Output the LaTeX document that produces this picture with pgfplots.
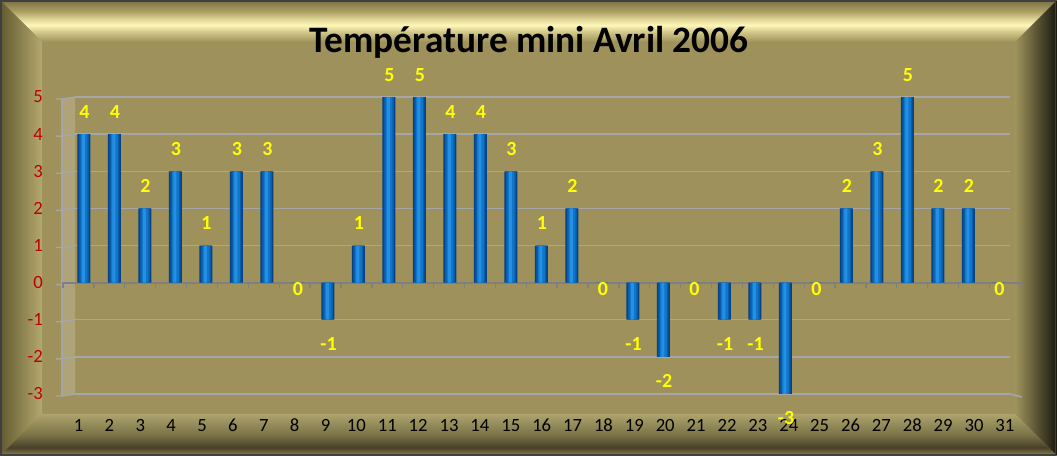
\documentclass[border=0pt]{standalone}
\usepackage{pgfplots}
\pgfplotsset{compat=1.18}
\usepackage{pgfplotstable}
\usepackage{fontspec}
\setmainfont{Carlito}

\definecolor{panel}{RGB}{158,145,92}
\definecolor{bevleftdark}{RGB}{98,90,48}
\definecolor{bevleftlight}{RGB}{180,168,110}
\definecolor{bevrightlight}{RGB}{160,148,92}
\definecolor{bevrightdark}{RGB}{25,24,14}
\definecolor{bar1}{RGB}{6,66,130}
\definecolor{bar2}{RGB}{10,92,170}
\definecolor{bar3}{RGB}{16,118,202}
\definecolor{bar4}{RGB}{36,144,228}
\definecolor{gridgrey}{RGB}{166,166,166}
\definecolor{axgrey}{RGB}{128,128,128}
\definecolor{ticklab}{RGB}{192,0,0}
\definecolor{lab}{RGB}{255,255,0}

\pgfdeclareverticalshading{topbev}{100bp}{%
  color(0bp)=(panel); color(25bp)=(panel);
  rgb(38bp)=(0.84,0.80,0.55); rgb(45bp)=(1,0.965,0.73);
  rgb(52bp)=(0.88,0.84,0.59); rgb(62bp)=(0.66,0.62,0.39);
  rgb(75bp)=(0.47,0.43,0.25); rgb(100bp)=(0.47,0.43,0.25)}
\pgfdeclareverticalshading{botbev}{100bp}{%
  rgb(0bp)=(0.60,0.56,0.38); rgb(25bp)=(0.60,0.56,0.38);
  rgb(29bp)=(0.45,0.42,0.26); rgb(35bp)=(0.28,0.25,0.15);
  rgb(50bp)=(0.48,0.45,0.28); rgb(75bp)=(0.68,0.64,0.43);
  rgb(100bp)=(0.68,0.64,0.43)}

% temperature mini, avril 2006
\pgfplotstableread{
d t
1 4
2 4
3 2
4 3
5 1
6 3
7 3
8 0
9 -1
10 1
11 5
12 5
13 4
14 4
15 3
16 1
17 2
18 0
19 -1
20 -2
21 0
22 -1
23 -1
24 -3
25 0
26 2
27 3
28 5
29 2
30 2
31 0
}\tmini

\begin{document}
\begin{tikzpicture}
\begin{scope}[x=0.75pt,y=0.75pt]
\useasboundingbox (0,0) rectangle (1057,456);
\fill[panel] (0,0) rectangle (1057,456);
% bevelled frame
\shade[shading=topbev]
  (0,456) -- (1057,456) -- (1015,414) -- (42,414) -- cycle;
\shade[left color=bevleftdark, right color=bevleftlight]
  (0,0) -- (42,42) -- (42,414) -- (0,456) -- cycle;
\shade[left color=bevrightlight, right color=bevrightdark]
  (1015,42) -- (1057,0) -- (1057,456) -- (1015,414) -- cycle;
\shade[shading=botbev]
  (0,0) -- (1057,0) -- (1015,42) -- (42,42) -- cycle;
\draw[black!75, line width=1.2pt] (0.8,0.8) rectangle (1055.5,455.2);
\node[font=\bfseries\fontsize{28}{32}\selectfont, anchor=base] at (529,403) {Température mini Avril 2006};
\end{scope}

\begin{axis}[
  at={(56.25pt,46.5pt)}, anchor=south west,
  scale only axis, width=701.25pt, height=222.75pt,
  xmin=0.705, xmax=31.361, ymin=-3, ymax=5,
  clip=false,
  axis line style={draw=none}, major tick length=0pt,
  ytick={-3,...,5},
  yticklabels={-3,-2,-1,0,1,2,3,4,5},
  ymajorgrids, grid style={gridgrey, line width=1.1pt},
  xtick={0.820,1.832,2.845,3.857,4.870,5.882,6.895,7.907,8.920,9.932,10.945,11.957,12.970,13.982,14.994,16.007,17.019,18.032,19.044,20.057,21.069,22.082,23.094,24.107,25.119,26.132,27.144,28.156,29.169,30.181,31.194},
  xticklabels={1,2,3,4,5,6,7,8,9,10,11,12,13,14,15,16,17,18,19,20,21,22,23,24,25,26,27,28,29,30,31},
  tick label style={font=\fontsize{14}{14}\selectfont, inner sep=0pt},
  yticklabel style={text=ticklab, anchor=east, xshift=-24pt},
  xticklabel style={text=black, anchor=base, yshift=-28.5pt},
  bar shift=0pt,
]
% left wall
\fill[white, opacity=0.18] ([xshift=-9.75pt,yshift=-1.5pt]axis cs:0.705,-3) -- (axis cs:0.705,-3)
  -- (axis cs:0.705,5) -- ([xshift=-9.75pt,yshift=-1.5pt]axis cs:0.705,5) -- cycle;
\draw[gridgrey, line width=1.1pt] ([xshift=-9.75pt,yshift=-1.5pt]axis cs:0.705,-3) -- ([xshift=-9.75pt,yshift=-1.5pt]axis cs:0.705,5);
\pgfplotsinvokeforeach{-3,...,5}{
  \draw[gridgrey, line width=1.1pt] ([xshift=-14.25pt,yshift=-1.5pt]axis cs:0.705,#1) -- ([xshift=-9.75pt,yshift=-1.5pt]axis cs:0.705,#1) -- (axis cs:0.705,#1);
}
\draw[gridgrey, line width=1.1pt] (axis cs:31.361,-3) -- ([xshift=9pt,yshift=-2.25pt]axis cs:31.361,-3);
% zero line
\draw[axgrey, line width=1.5pt] ([xshift=-9.75pt]axis cs:0.705,0) -- ([xshift=9pt]axis cs:31.361,0);
\pgfplotsinvokeforeach{0,...,31}{
  \draw[axgrey, line width=1pt] ([xshift={#1*23.16pt}]axis cs:0.3135,0) -- ([xshift={#1*23.16pt},yshift=-4pt]axis cs:0.3135,0);
}
% bars: stacked widths fake the cylinder shading
\addplot[ybar, bar width=9.75pt, draw=none, fill=bar1] table[x=d, y=t] {\tmini};
\addplot[ybar, bar width=7.5pt, draw=none, fill=bar2] table[x=d, y=t] {\tmini};
\addplot[ybar, bar width=5pt, draw=none, fill=bar3] table[x=d, y=t] {\tmini};
\addplot[ybar, bar width=2.25pt, bar shift=-0.4pt, draw=none, fill=bar4,
  point meta=explicit symbolic,
  visualization depends on={rawy \as \tval},
  nodes near coords={\pgfplotspointmeta},
  every node near coord/.append style={anchor=center, inner sep=0pt, text=lab,
    font=\bfseries\fontsize{15}{15}\selectfont,
    xshift=0.4pt,
    yshift={ifthenelse(\tval>0,16.5,ifthenelse(\tval<0,-18,-4.5))*1pt}},
] table[x=d, y=t, meta=t] {\tmini};
\end{axis}
\end{tikzpicture}
\end{document}
